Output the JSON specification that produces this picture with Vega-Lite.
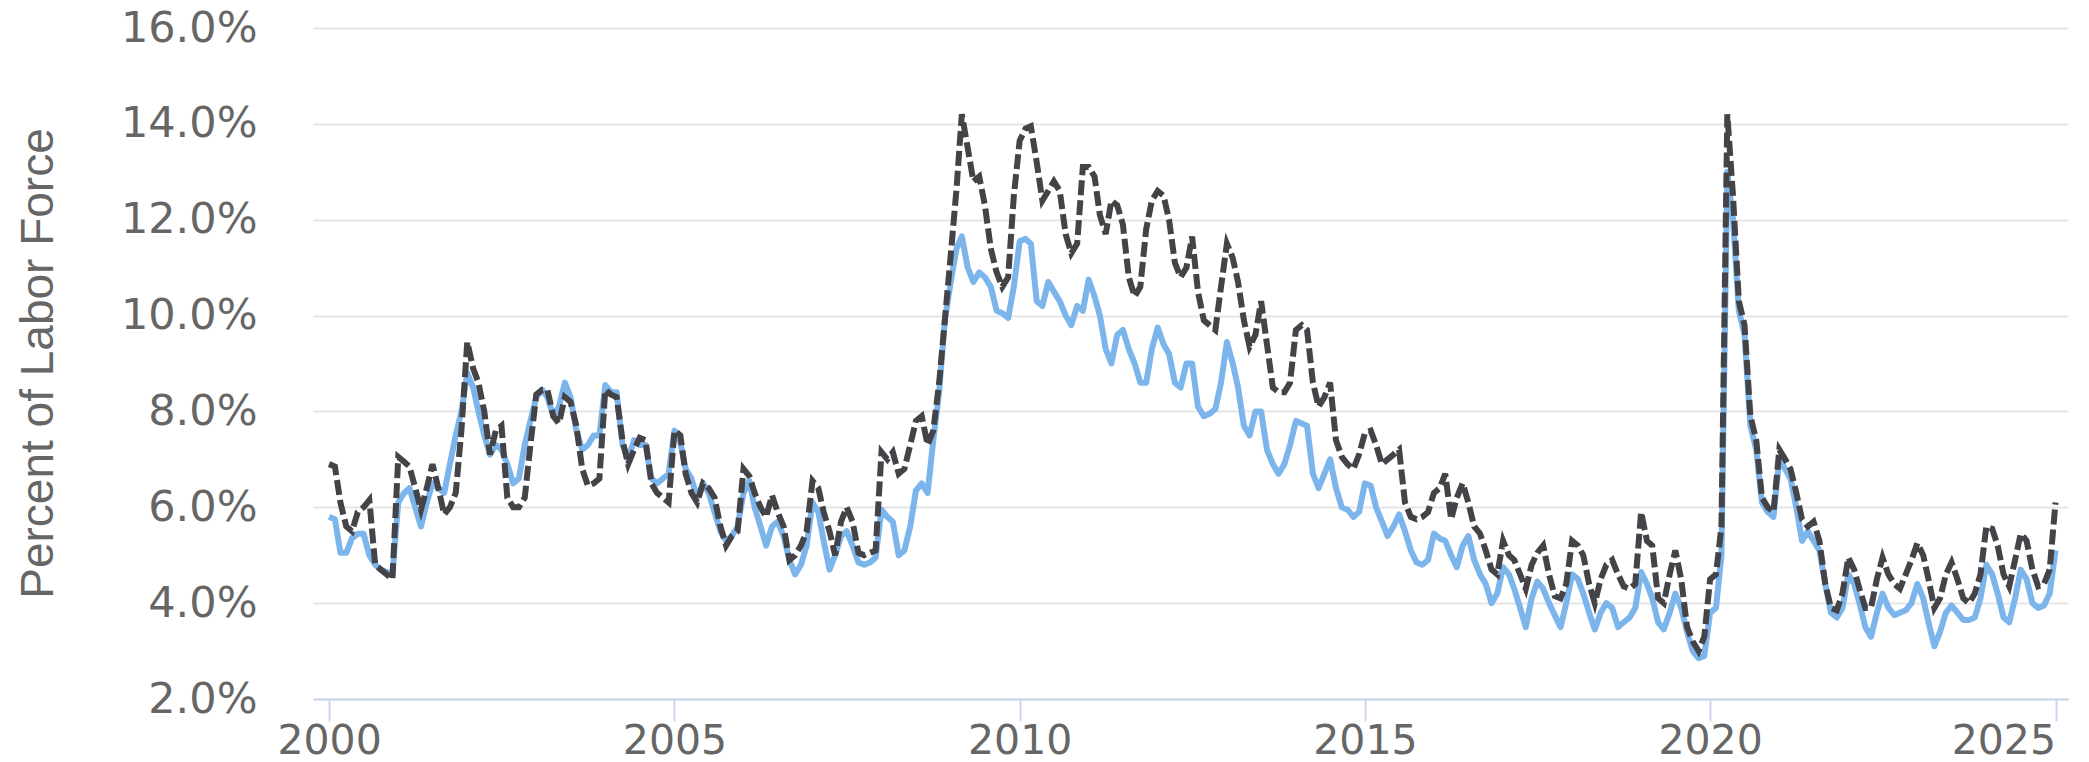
{
"$schema": "https://vega.github.io/schema/vega-lite/v6.json",
"width": 1755, "height": 671,
"autosize": "none",
"padding": {"left": 313, "top": 28, "right": 21, "bottom": 63},
"background": "white",
"config": {"view": {"stroke": null}},
"data": {"format": {"parse": {"t": "utc:'%Y-%m'"}}, "values": [
{"t":"2000-01","d":6.9,"b":5.8},{"t":"2000-02","d":6.85,"b":5.75},{"t":"2000-03","d":6.1,"b":5.05},{"t":"2000-04","d":5.6,"b":5.05},{"t":"2000-05","d":5.5,"b":5.35},{"t":"2000-06","d":5.9,"b":5.45},{"t":"2000-07","d":6.0,"b":5.45},{"t":"2000-08","d":6.15,"b":5.0},{"t":"2000-09","d":4.8,"b":4.8},{"t":"2000-10","d":4.7,"b":4.7},{"t":"2000-11","d":4.6,"b":4.65},{"t":"2000-12","d":4.5,"b":4.6},
{"t":"2001-01","d":7.05,"b":6.1},{"t":"2001-02","d":6.95,"b":6.3},{"t":"2001-03","d":6.85,"b":6.4},{"t":"2001-04","d":6.4,"b":6.0},{"t":"2001-05","d":5.95,"b":5.6},{"t":"2001-06","d":6.4,"b":6.1},{"t":"2001-07","d":6.9,"b":6.5},{"t":"2001-08","d":6.4,"b":6.4},{"t":"2001-09","d":5.85,"b":6.3},{"t":"2001-10","d":6.0,"b":6.9},{"t":"2001-11","d":6.3,"b":7.5},{"t":"2001-12","d":7.6,"b":8.0},
{"t":"2002-01","d":9.45,"b":8.8},{"t":"2002-02","d":8.9,"b":8.5},{"t":"2002-03","d":8.6,"b":8.0},{"t":"2002-04","d":8.0,"b":7.5},{"t":"2002-05","d":7.1,"b":7.1},{"t":"2002-06","d":7.6,"b":7.3},{"t":"2002-07","d":7.7,"b":7.2},{"t":"2002-08","d":6.2,"b":6.9},{"t":"2002-09","d":6.0,"b":6.5},{"t":"2002-10","d":6.0,"b":6.6},{"t":"2002-11","d":6.2,"b":7.3},{"t":"2002-12","d":7.3,"b":7.8},
{"t":"2003-01","d":8.35,"b":8.3},{"t":"2003-02","d":8.45,"b":8.45},{"t":"2003-03","d":8.45,"b":8.3},{"t":"2003-04","d":7.9,"b":7.9},{"t":"2003-05","d":7.75,"b":8.1},{"t":"2003-06","d":8.3,"b":8.6},{"t":"2003-07","d":8.2,"b":8.3},{"t":"2003-08","d":7.7,"b":7.6},{"t":"2003-09","d":6.8,"b":7.2},{"t":"2003-10","d":6.45,"b":7.3},{"t":"2003-11","d":6.5,"b":7.5},{"t":"2003-12","d":6.6,"b":7.5},
{"t":"2004-01","d":8.45,"b":8.55},{"t":"2004-02","d":8.35,"b":8.4},{"t":"2004-03","d":8.3,"b":8.4},{"t":"2004-04","d":7.4,"b":7.3},{"t":"2004-05","d":6.9,"b":7.0},{"t":"2004-06","d":7.2,"b":7.4},{"t":"2004-07","d":7.45,"b":7.3},{"t":"2004-08","d":7.4,"b":7.3},{"t":"2004-09","d":6.5,"b":6.6},{"t":"2004-10","d":6.3,"b":6.5},{"t":"2004-11","d":6.2,"b":6.6},{"t":"2004-12","d":6.1,"b":6.7},
{"t":"2005-01","d":7.6,"b":7.6},{"t":"2005-02","d":7.5,"b":7.35},{"t":"2005-03","d":6.7,"b":6.8},{"t":"2005-04","d":6.3,"b":6.6},{"t":"2005-05","d":6.1,"b":6.2},{"t":"2005-06","d":6.5,"b":6.5},{"t":"2005-07","d":6.4,"b":6.3},{"t":"2005-08","d":6.2,"b":5.9},{"t":"2005-09","d":5.6,"b":5.5},{"t":"2005-10","d":5.2,"b":5.3},{"t":"2005-11","d":5.4,"b":5.4},{"t":"2005-12","d":5.5,"b":5.6},
{"t":"2006-01","d":6.8,"b":6.3},{"t":"2006-02","d":6.65,"b":6.55},{"t":"2006-03","d":6.3,"b":6.0},{"t":"2006-04","d":6.0,"b":5.6},{"t":"2006-05","d":5.8,"b":5.2},{"t":"2006-06","d":6.25,"b":5.6},{"t":"2006-07","d":5.9,"b":5.7},{"t":"2006-08","d":5.6,"b":5.4},{"t":"2006-09","d":4.9,"b":4.9},{"t":"2006-10","d":5.0,"b":4.6},{"t":"2006-11","d":5.2,"b":4.8},{"t":"2006-12","d":5.5,"b":5.2},
{"t":"2007-01","d":6.55,"b":6.1},{"t":"2007-02","d":6.4,"b":5.9},{"t":"2007-03","d":5.9,"b":5.3},{"t":"2007-04","d":5.5,"b":4.7},{"t":"2007-05","d":5.0,"b":5.0},{"t":"2007-06","d":5.7,"b":5.4},{"t":"2007-07","d":6.0,"b":5.5},{"t":"2007-08","d":5.7,"b":5.2},{"t":"2007-09","d":5.05,"b":4.85},{"t":"2007-10","d":5.0,"b":4.8},{"t":"2007-11","d":5.05,"b":4.85},{"t":"2007-12","d":5.1,"b":4.95},
{"t":"2008-01","d":7.15,"b":5.95},{"t":"2008-02","d":7.0,"b":5.8},{"t":"2008-03","d":7.15,"b":5.7},{"t":"2008-04","d":6.7,"b":5.0},{"t":"2008-05","d":6.8,"b":5.1},{"t":"2008-06","d":7.3,"b":5.6},{"t":"2008-07","d":7.8,"b":6.35},{"t":"2008-08","d":7.9,"b":6.5},{"t":"2008-09","d":7.3,"b":6.3},{"t":"2008-10","d":7.6,"b":7.4},{"t":"2008-11","d":8.6,"b":8.4},{"t":"2008-12","d":9.9,"b":9.9},
{"t":"2009-01","d":11.25,"b":10.7},{"t":"2009-02","d":12.65,"b":11.4},{"t":"2009-03","d":14.2,"b":11.65},{"t":"2009-04","d":13.5,"b":11.0},{"t":"2009-05","d":12.8,"b":10.7},{"t":"2009-06","d":12.9,"b":10.9},{"t":"2009-07","d":12.3,"b":10.8},{"t":"2009-08","d":11.4,"b":10.6},{"t":"2009-09","d":10.9,"b":10.1},{"t":"2009-10","d":10.6,"b":10.05},{"t":"2009-11","d":10.8,"b":9.95},{"t":"2009-12","d":12.5,"b":10.6},
{"t":"2010-01","d":13.65,"b":11.55},{"t":"2010-02","d":13.9,"b":11.6},{"t":"2010-03","d":13.95,"b":11.5},{"t":"2010-04","d":13.2,"b":10.3},{"t":"2010-05","d":12.4,"b":10.2},{"t":"2010-06","d":12.6,"b":10.7},{"t":"2010-07","d":12.8,"b":10.5},{"t":"2010-08","d":12.6,"b":10.3},{"t":"2010-09","d":11.7,"b":10.0},{"t":"2010-10","d":11.3,"b":9.8},{"t":"2010-11","d":11.5,"b":10.2},{"t":"2010-12","d":13.1,"b":10.1},
{"t":"2011-01","d":13.1,"b":10.75},{"t":"2011-02","d":12.9,"b":10.4},{"t":"2011-03","d":12.1,"b":10.0},{"t":"2011-04","d":11.7,"b":9.3},{"t":"2011-05","d":12.4,"b":9.0},{"t":"2011-06","d":12.3,"b":9.6},{"t":"2011-07","d":11.9,"b":9.7},{"t":"2011-08","d":10.8,"b":9.3},{"t":"2011-09","d":10.4,"b":9.0},{"t":"2011-10","d":10.6,"b":8.6},{"t":"2011-11","d":11.8,"b":8.6},{"t":"2011-12","d":12.4,"b":9.3},
{"t":"2012-01","d":12.6,"b":9.75},{"t":"2012-02","d":12.5,"b":9.4},{"t":"2012-03","d":12.0,"b":9.2},{"t":"2012-04","d":11.1,"b":8.6},{"t":"2012-05","d":10.8,"b":8.5},{"t":"2012-06","d":11.0,"b":9.0},{"t":"2012-07","d":11.65,"b":9.0},{"t":"2012-08","d":10.5,"b":8.1},{"t":"2012-09","d":9.9,"b":7.9},{"t":"2012-10","d":9.8,"b":7.95},{"t":"2012-11","d":9.7,"b":8.05},{"t":"2012-12","d":10.6,"b":8.6},
{"t":"2013-01","d":11.5,"b":9.45},{"t":"2013-02","d":11.2,"b":9.0},{"t":"2013-03","d":10.7,"b":8.5},{"t":"2013-04","d":9.9,"b":7.7},{"t":"2013-05","d":9.35,"b":7.5},{"t":"2013-06","d":9.6,"b":8.0},{"t":"2013-07","d":10.3,"b":8.0},{"t":"2013-08","d":9.4,"b":7.2},{"t":"2013-09","d":8.5,"b":6.9},{"t":"2013-10","d":8.4,"b":6.7},{"t":"2013-11","d":8.4,"b":6.9},{"t":"2013-12","d":8.6,"b":7.3},
{"t":"2014-01","d":9.7,"b":7.8},{"t":"2014-02","d":9.8,"b":7.75},{"t":"2014-03","d":9.7,"b":7.7},{"t":"2014-04","d":8.6,"b":6.7},{"t":"2014-05","d":8.1,"b":6.4},{"t":"2014-06","d":8.3,"b":6.7},{"t":"2014-07","d":8.6,"b":7.0},{"t":"2014-08","d":7.4,"b":6.4},{"t":"2014-09","d":7.05,"b":6.0},{"t":"2014-10","d":6.9,"b":5.95},{"t":"2014-11","d":6.8,"b":5.8},{"t":"2014-12","d":7.1,"b":5.9},
{"t":"2015-01","d":7.55,"b":6.5},{"t":"2015-02","d":7.6,"b":6.45},{"t":"2015-03","d":7.3,"b":6.0},{"t":"2015-04","d":6.9,"b":5.7},{"t":"2015-05","d":7.0,"b":5.4},{"t":"2015-06","d":7.1,"b":5.6},{"t":"2015-07","d":7.2,"b":5.85},{"t":"2015-08","d":6.1,"b":5.5},{"t":"2015-09","d":5.8,"b":5.1},{"t":"2015-10","d":5.75,"b":4.85},{"t":"2015-11","d":5.8,"b":4.8},{"t":"2015-12","d":5.9,"b":4.9},
{"t":"2016-01","d":6.3,"b":5.45},{"t":"2016-02","d":6.4,"b":5.35},{"t":"2016-03","d":6.7,"b":5.3},{"t":"2016-04","d":5.75,"b":5.0},{"t":"2016-05","d":6.2,"b":4.75},{"t":"2016-06","d":6.5,"b":5.2},{"t":"2016-07","d":6.1,"b":5.4},{"t":"2016-08","d":5.6,"b":4.9},{"t":"2016-09","d":5.45,"b":4.6},{"t":"2016-10","d":5.1,"b":4.4},{"t":"2016-11","d":4.7,"b":4.0},{"t":"2016-12","d":4.6,"b":4.2},
{"t":"2017-01","d":5.3,"b":4.75},{"t":"2017-02","d":5.0,"b":4.6},{"t":"2017-03","d":4.9,"b":4.3},{"t":"2017-04","d":4.6,"b":3.9},{"t":"2017-05","d":4.3,"b":3.5},{"t":"2017-06","d":4.8,"b":4.1},{"t":"2017-07","d":5.05,"b":4.45},{"t":"2017-08","d":5.2,"b":4.3},{"t":"2017-09","d":4.6,"b":4.0},{"t":"2017-10","d":4.15,"b":3.75},{"t":"2017-11","d":4.1,"b":3.5},{"t":"2017-12","d":4.4,"b":4.0},
{"t":"2018-01","d":5.3,"b":4.6},{"t":"2018-02","d":5.2,"b":4.5},{"t":"2018-03","d":5.0,"b":4.2},{"t":"2018-04","d":4.4,"b":3.8},{"t":"2018-05","d":4.0,"b":3.45},{"t":"2018-06","d":4.5,"b":3.8},{"t":"2018-07","d":4.8,"b":4.0},{"t":"2018-08","d":4.9,"b":3.9},{"t":"2018-09","d":4.6,"b":3.5},{"t":"2018-10","d":4.35,"b":3.6},{"t":"2018-11","d":4.3,"b":3.7},{"t":"2018-12","d":4.4,"b":3.9},
{"t":"2019-01","d":5.9,"b":4.65},{"t":"2019-02","d":5.3,"b":4.4},{"t":"2019-03","d":5.2,"b":4.1},{"t":"2019-04","d":4.1,"b":3.6},{"t":"2019-05","d":4.0,"b":3.45},{"t":"2019-06","d":4.6,"b":3.8},{"t":"2019-07","d":5.1,"b":4.2},{"t":"2019-08","d":4.5,"b":3.9},{"t":"2019-09","d":3.5,"b":3.4},{"t":"2019-10","d":3.2,"b":3.0},{"t":"2019-11","d":3.0,"b":2.85},{"t":"2019-12","d":3.3,"b":2.9},
{"t":"2020-01","d":4.5,"b":3.8},{"t":"2020-02","d":4.6,"b":3.9},{"t":"2020-03","d":5.6,"b":5.0},{"t":"2020-04","d":14.2,"b":13.0},{"t":"2020-05","d":12.5,"b":12.0},{"t":"2020-06","d":10.3,"b":10.1},{"t":"2020-07","d":9.8,"b":9.6},{"t":"2020-08","d":7.9,"b":7.7},{"t":"2020-09","d":7.4,"b":7.2},{"t":"2020-10","d":6.2,"b":6.1},{"t":"2020-11","d":6.0,"b":5.9},{"t":"2020-12","d":5.9,"b":5.8},
{"t":"2021-01","d":7.2,"b":7.0},{"t":"2021-02","d":7.0,"b":6.8},{"t":"2021-03","d":6.8,"b":6.6},{"t":"2021-04","d":6.3,"b":6.0},{"t":"2021-05","d":5.75,"b":5.3},{"t":"2021-06","d":5.6,"b":5.5},{"t":"2021-07","d":5.7,"b":5.3},{"t":"2021-08","d":5.3,"b":5.1},{"t":"2021-09","d":4.4,"b":4.4},{"t":"2021-10","d":3.9,"b":3.8},{"t":"2021-11","d":3.85,"b":3.7},{"t":"2021-12","d":4.2,"b":3.9},
{"t":"2022-01","d":4.95,"b":4.6},{"t":"2022-02","d":4.7,"b":4.4},{"t":"2022-03","d":4.3,"b":4.0},{"t":"2022-04","d":3.9,"b":3.5},{"t":"2022-05","d":3.9,"b":3.3},{"t":"2022-06","d":4.5,"b":3.8},{"t":"2022-07","d":4.95,"b":4.2},{"t":"2022-08","d":4.6,"b":3.9},{"t":"2022-09","d":4.4,"b":3.75},{"t":"2022-10","d":4.3,"b":3.8},{"t":"2022-11","d":4.6,"b":3.85},{"t":"2022-12","d":4.9,"b":4.0},
{"t":"2023-01","d":5.25,"b":4.4},{"t":"2023-02","d":5.0,"b":4.1},{"t":"2023-03","d":4.5,"b":3.6},{"t":"2023-04","d":3.9,"b":3.1},{"t":"2023-05","d":4.1,"b":3.4},{"t":"2023-06","d":4.6,"b":3.8},{"t":"2023-07","d":4.85,"b":3.95},{"t":"2023-08","d":4.5,"b":3.8},{"t":"2023-09","d":4.1,"b":3.65},{"t":"2023-10","d":4.0,"b":3.65},{"t":"2023-11","d":4.2,"b":3.7},{"t":"2023-12","d":4.6,"b":4.1},
{"t":"2024-01","d":5.6,"b":4.8},{"t":"2024-02","d":5.55,"b":4.6},{"t":"2024-03","d":5.2,"b":4.2},{"t":"2024-04","d":4.6,"b":3.7},{"t":"2024-05","d":4.35,"b":3.6},{"t":"2024-06","d":4.9,"b":4.1},{"t":"2024-07","d":5.45,"b":4.7},{"t":"2024-08","d":5.3,"b":4.5},{"t":"2024-09","d":4.7,"b":4.0},{"t":"2024-10","d":4.35,"b":3.9},{"t":"2024-11","d":4.4,"b":3.95},{"t":"2024-12","d":4.7,"b":4.2},
{"t":"2025-01","d":6.1,"b":5.1}
]},
"encoding": {
  "x": {"field": "t", "type": "temporal",
    "scale": {"type": "utc", "domain": [{"year": 1999, "month": 10, "date": 8, "utc": true}, {"year": 2025, "month": 3, "date": 8, "utc": true}]},
    "axis": {"title": null, "format": "%Y", "formatType": "utc",
      "values": [{"year": 2000, "month": 1, "date": 1, "utc": true}, {"year": 2005, "month": 1, "date": 1, "utc": true}, {"year": 2010, "month": 1, "date": 1, "utc": true}, {"year": 2015, "month": 1, "date": 1, "utc": true}, {"year": 2020, "month": 1, "date": 1, "utc": true}, {"year": 2025, "month": 1, "date": 1, "utc": true}],
      "grid": false, "domainColor": "#ccd6eb", "domainWidth": 2, "tickColor": "#ccd6eb", "tickWidth": 2, "tickSize": 22,
      "labelFont": "DejaVu Sans", "labelFontSize": 41, "labelColor": "#666666", "labelPadding": 0, "labelFlush": 14, "labelOverlap": false}}
},
"layer": [
  {"mark": {"type": "line", "color": "#7cb5ec", "strokeWidth": 6, "strokeJoin": "round"},
   "encoding": {"y": {"field": "b", "type": "quantitative",
     "scale": {"domain": [2, 16], "nice": false, "zero": false},
     "axis": {"title": "Percent of Labor Force", "values": [2, 4, 6, 8, 10, 12, 14, 16],
       "labelExpr": "format(datum.value, '.1f') + '%'",
       "domain": false, "ticks": false, "grid": true, "gridColor": "#e6e6e6", "gridWidth": 2,
       "labelFont": "DejaVu Sans", "labelFontSize": 43, "labelColor": "#666666", "labelPadding": 56,
       "titleFont": "Liberation Sans", "titleFontSize": 46, "titleFontWeight": "normal", "titleColor": "#666666",
       "titleAngle": -90, "titleX": -275, "titleY": 335, "titleAlign": "center", "titleBaseline": "middle"}}}},
  {"mark": {"type": "line", "color": "#434348", "strokeWidth": 6, "strokeDash": [15, 5]},
   "encoding": {"y": {"field": "d", "type": "quantitative", "title": "Percent of Labor Force"}}}
]
}
